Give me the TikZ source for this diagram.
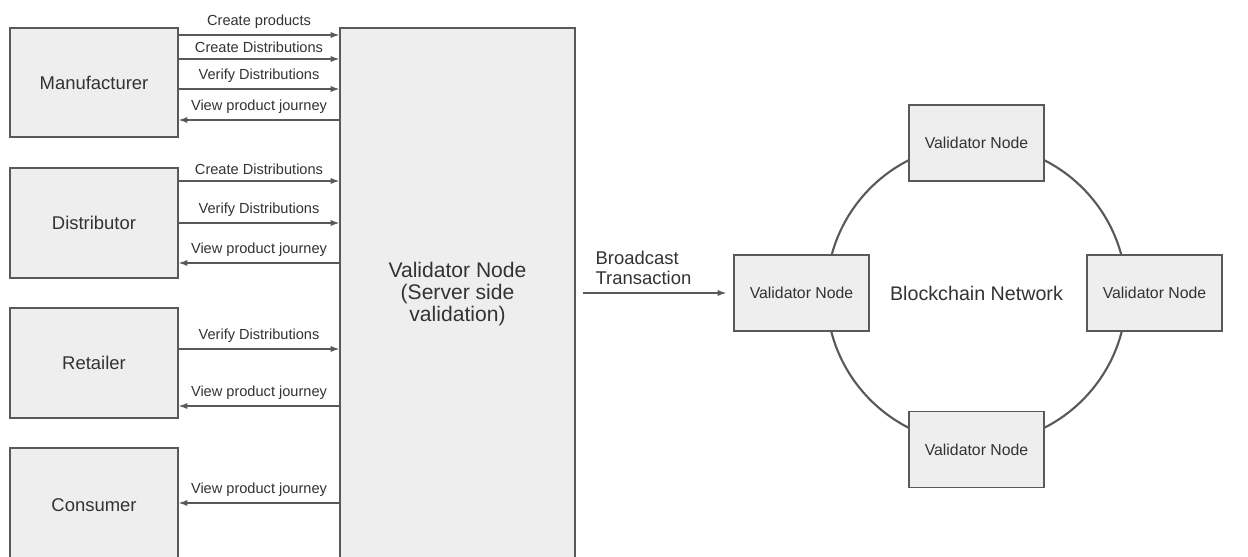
\documentclass[tikz,border=0pt]{standalone}
\usepackage{fontspec}
\setmainfont{Liberation Sans}
\usetikzlibrary{arrows.meta}
\definecolor{boxfill}{HTML}{EEEEEE}
\definecolor{edge}{HTML}{595959}
\definecolor{ink}{HTML}{333333}
\begin{document}
\begin{tikzpicture}[
    x=0.02cm, y=-0.02cm,
    box/.style={draw=edge, line width=0.8pt, fill=boxfill, text=ink, align=center, inner sep=0pt},
    actor/.style={box, minimum width=3.36cm, font=\fontsize{10.5}{12.5}\selectfont},
    peer/.style={box, minimum width=2.7cm, minimum height=1.52cm, font=\fontsize{9}{11}\selectfont},
    flow/.style={-{Latex[length=5pt,width=3.5pt]}, draw=edge, line width=0.6pt},
    lbl/.style={above, font=\fontsize{8.3}{9.5}\selectfont, text=ink, inner sep=3.6pt}
]
    \clip (0,0) rectangle (1248,557);
    \fill[white] (0,0) rectangle (1248,557);

    % Actors
    \node[actor, minimum height=2.18cm] (man) at (94,82.5) {Manufacturer};
    \node[actor, minimum height=2.2cm] (dist) at (94,223) {Distributor};
    \node[actor, minimum height=2.2cm] (ret) at (94,363) {Retailer};
    \node[actor, minimum height=2.28cm] (cons) at (94,505) {Consumer};

    % Server side validator
    \node[box, minimum width=4.7cm, minimum height=10.64cm, font=\fontsize{12}{12.6}\selectfont] (server) at (457.5,294) {Validator Node\\(Server side\\validation)};

    % Manufacturer requests
    \draw[flow] (man.east |- 0,35) -- node[lbl] {Create products} (server.west |- 0,35);
    \draw[flow] (man.east |- 0,59) -- node[lbl] {Create Distributions} (server.west |- 0,59);
    \draw[flow] (man.east |- 0,89) -- node[lbl] {Verify Distributions} (server.west |- 0,89);
    \draw[flow] (server.west |- 0,120) -- node[lbl] {View product journey} (man.east |- 0,120);

    % Distributor requests
    \draw[flow] (dist.east |- 0,181) -- node[lbl] {Create Distributions} (server.west |- 0,181);
    \draw[flow] (dist.east |- 0,223) -- node[lbl] {Verify Distributions} (server.west |- 0,223);
    \draw[flow] (server.west |- 0,263) -- node[lbl] {View product journey} (dist.east |- 0,263);

    % Retailer requests
    \draw[flow] (ret.east |- 0,349) -- node[lbl] {Verify Distributions} (server.west |- 0,349);
    \draw[flow] (server.west |- 0,406) -- node[lbl] {View product journey} (ret.east |- 0,406);

    % Consumer requests
    \draw[flow] (server.west |- 0,503) -- node[lbl] {View product journey} (cons.east |- 0,503);

    % Blockchain network
    \draw[edge, line width=1.2pt] (976.5,294) circle[radius=3cm];
    \node[font=\fontsize{11.2}{13}\selectfont, text=ink] (net) at (976.5,293) {Blockchain Network};
    \node[peer] (vleft) at (801.5,293) {Validator Node};
    \node[peer] (vtop) at (976.5,143) {Validator Node};
    \node[peer] (vright) at (1154.5,293) {Validator Node};
    \node[peer] (vbottom) at (976.5,449.5) {Validator Node};

    % Broadcast
    \draw[flow, shorten <=4pt, shorten >=4pt] (server.east |- vleft) -- node[pos=0.43, above=1pt, align=left, font=\fontsize{10.5}{11.5}\selectfont, text=ink] {Broadcast\\Transaction} (vleft.west);
\end{tikzpicture}
\end{document}
